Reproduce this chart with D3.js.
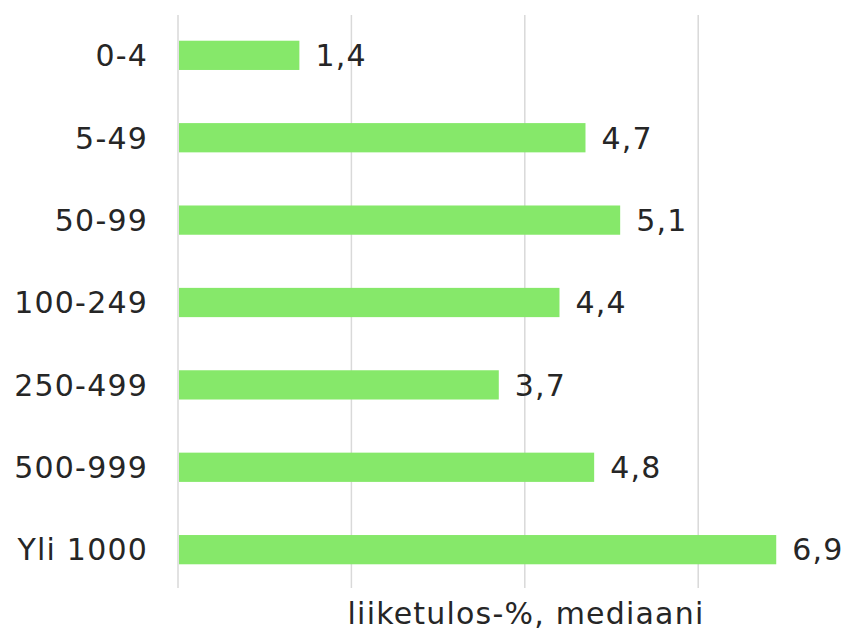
<!DOCTYPE html>
<html>
<head>
<meta charset="utf-8">
<script src="https://cdn.jsdelivr.net/npm/d3@7"></script>
<style>
    body { margin: 0; background: #fff; }
    text { font-family: "DejaVu Sans", Verdana, sans-serif; fill: #262626; }
</style>
</head>
<body>
<div id="chart"></div>
<script>
const categories = ['0-4', '5-49', '50-99', '100-249', '250-499', '500-999', 'Yli 1000']
const values = [1.4, 4.7, 5.1, 4.4, 3.7, 4.8, 6.9]
const gridTicks = [0, 2, 4, 6]
const axisTitle = 'liiketulos-%, mediaani'

const WIDTH = 866
const HEIGHT = 630
const MARGIN = { TOP: 15, RIGHT: 0, BOTTOM: 42, LEFT: 178 }
const FONT_SIZE = '30px'
const LETTER_SPACING = '1.2px'

const svg = d3.select('#chart')
    .append('svg')
    .attr('width', WIDTH)
    .attr('height', HEIGHT)

const x = d3.scaleLinear()
    .domain([0, 2])
    .range([MARGIN.LEFT, 351.4])

const y = d3.scaleBand()
    .domain(categories)
    .range([MARGIN.TOP + 1, HEIGHT - MARGIN.BOTTOM + 1])
    .paddingInner(0.645)
    .paddingOuter(0.3)

// vertical gridlines
svg.append('g')
    .selectAll('line')
    .data(gridTicks)
    .join('line')
    .attr('x1', (d) => x(d))
    .attr('x2', (d) => x(d))
    .attr('y1', MARGIN.TOP)
    .attr('y2', HEIGHT - MARGIN.BOTTOM)
    .attr('stroke', '#d9d9d9')
    .attr('stroke-width', 1.5)

// bars
svg.append('g')
    .selectAll('rect')
    .data(values)
    .join('rect')
    .attr('x', x(0) + 1)
    .attr('y', (d, i) => y(categories[i]))
    .attr('width', (d) => x(d) - x(0) - 1)
    .attr('height', y.bandwidth())
    .attr('fill', '#86e86a')

// value labels
svg.append('g')
    .selectAll('text')
    .data(values)
    .join('text')
    .attr('x', (d) => x(d) + 16)
    .attr('y', (d, i) => y(categories[i]) + y.bandwidth() / 2)
    .attr('dy', '0.36em')
    .style('font-size', FONT_SIZE)
    .style('letter-spacing', LETTER_SPACING)
    .text((d) => d.toFixed(1).replace('.', ','))

// category labels
svg.append('g')
    .selectAll('text')
    .data(categories)
    .join('text')
    .attr('x', 148)
    .attr('y', (d) => y(d) + y.bandwidth() / 2)
    .attr('dy', '0.36em')
    .attr('text-anchor', 'end')
    .style('font-size', FONT_SIZE)
    .style('letter-spacing', LETTER_SPACING)
    .text((d) => d)

// axis title
svg.append('text')
    .attr('x', 526)
    .attr('y', 624)
    .attr('text-anchor', 'middle')
    .style('font-size', FONT_SIZE)
    .style('letter-spacing', LETTER_SPACING)
    .text(axisTitle)
</script>
</body>
</html>
